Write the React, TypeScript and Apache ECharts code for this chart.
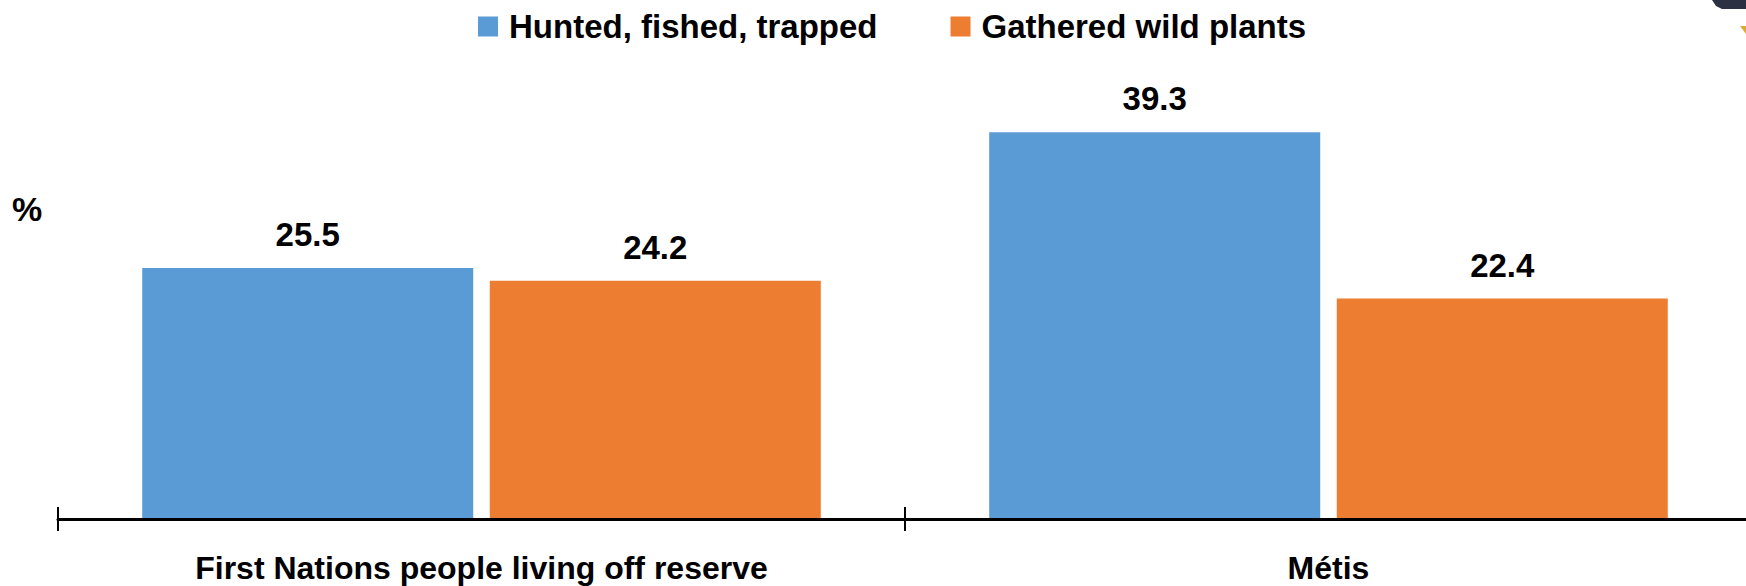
import React, { useEffect, useRef } from "react";
import * as echarts from "echarts";

const categories = ["First Nations people living off reserve", "Métis"];
const seriesNames = ["Hunted, fished, trapped", "Gathered wild plants"];
const hunted = [25.5, 39.3];
const gathered = [24.2, 22.4];
const colors = ["#5B9BD5", "#ED7D31"];

const FONT = "'Liberation Sans', Arial, sans-serif";

export default function App() {
  const ref = useRef<HTMLDivElement>(null);
  useEffect(() => {
    if (!ref.current) return;
    const chart = echarts.init(ref.current, undefined, { renderer: "svg" });
    const labelStyle = {
      show: true,
      position: "top" as const,
      distance: 17,
      fontFamily: FONT,
      fontWeight: "bold" as const,
      fontSize: 33,
      color: "#000",
    };
    chart.setOption({
      animation: false,
      backgroundColor: "#fff",
      color: colors,
      title: {
        text: "%",
        left: 12,
        top: 192,
        padding: 0,
        textStyle: { fontFamily: FONT, fontWeight: "bold", fontSize: 34, color: "#000" },
      },
      legend: {
        data: seriesNames,
        top: 10,
        left: 478,
        padding: 0,
        itemWidth: 20,
        itemHeight: 20,
        itemGap: 73,
        icon: "rect",
        textStyle: {
          fontFamily: FONT,
          fontWeight: "bold",
          fontSize: 33,
          color: "#000",
          padding: [0, 0, 0, 6],
        },
      },
      grid: {
        left: 58,
        top: 125.4,
        width: 1694,
        height: 393.6,
        containLabel: false,
        outerBoundsMode: "none",
      },
      xAxis: [
        {
          type: "category",
          data: categories,
          position: "bottom",
          axisLine: { show: true, lineStyle: { color: "#000", width: 3 } },
          axisTick: { show: true, length: 12, lineStyle: { color: "#000", width: 2 } },
          axisLabel: {
            margin: 33,
            fontFamily: FONT,
            fontWeight: "bold",
            fontSize: 32,
            color: "#000",
          },
          z: 5,
        },
        {
          type: "category",
          data: categories,
          position: "bottom",
          axisLine: { show: false },
          axisTick: { show: true, inside: true, length: 12, lineStyle: { color: "#000", width: 2 } },
          axisLabel: { show: false },
        },
      ],
      yAxis: {
        type: "value",
        min: 0,
        max: 40,
        show: false,
        splitLine: { show: false },
      },
      graphic: [
        {
          type: "polygon",
          right: 0,
          top: 0,
          shape: { points: [[0, 0], [34, 0], [34, 9], [10, 9], [4, 6]] },
          style: { fill: "#2B3042" },
        },
        {
          type: "polygon",
          right: 0,
          top: 26,
          shape: { points: [[0, 0], [6, 0], [6, 8]] },
          style: { fill: "#D9A93A" },
        },
      ],
      series: [
        {
          name: seriesNames[0],
          type: "bar",
          data: hunted,
          barWidth: 331,
          barGap: "5%",
          itemStyle: { color: colors[0] },
          label: labelStyle,
        },
        {
          name: seriesNames[1],
          type: "bar",
          data: gathered,
          barWidth: 331,
          barGap: "5%",
          itemStyle: { color: colors[1] },
          label: labelStyle,
        },
      ],
    });
    return () => chart.dispose();
  }, []);
  return (
    <div
      ref={ref}
      style={{ position: "fixed", left: 0, top: 0, width: 1746, height: 586 }}
    />
  );
}
